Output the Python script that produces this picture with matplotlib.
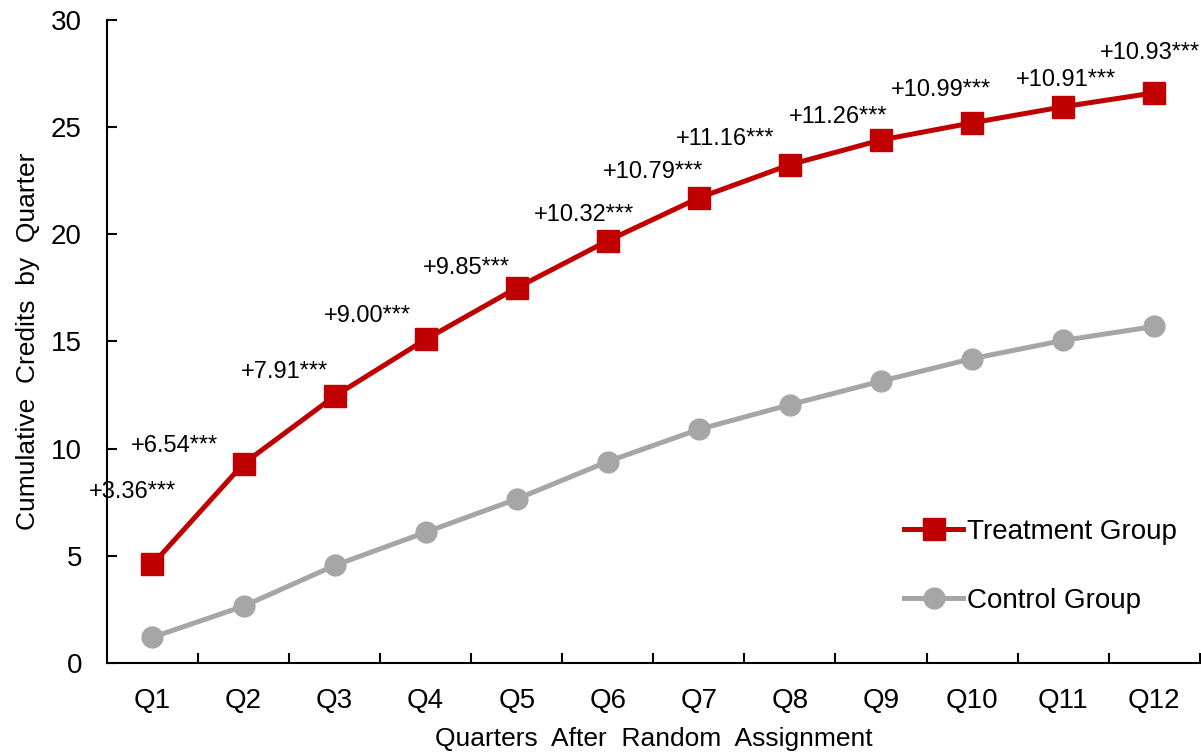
import matplotlib.pyplot as plt

plt.rcParams['font.family'] = ['Liberation Sans', 'DejaVu Sans']

quarters = ['Q1', 'Q2', 'Q3', 'Q4', 'Q5', 'Q6', 'Q7', 'Q8', 'Q9', 'Q10', 'Q11', 'Q12']
treatment = [4.6, 9.3, 12.45, 15.1, 17.5, 19.7, 21.7, 23.25, 24.4, 25.2, 25.95, 26.6]
control = [1.2, 2.65, 4.55, 6.1, 7.65, 9.4, 10.9, 12.05, 13.15, 14.2, 15.05, 15.7]
effects = ['+3.36***', '+6.54***', '+7.91***', '+9.00***', '+9.85***', '+10.32***',
           '+10.79***', '+11.16***', '+11.26***', '+10.99***', '+10.91***', '+10.93***']

# label offsets from each treatment point, in pixels
label_offsets = [(-20, 72), (-69, 18), (-50, 24), (-58, 23), (-50, 20), (-24, 26),
                 (-46, 26), (-65, 26), (-43, 23), (-31, 33), (3, 27), (-4, 40)]

red = '#C00000'
gray = '#A6A6A6'

fig = plt.figure(figsize=(12.01, 7.53), dpi=100)
ax = fig.add_axes([0.089, 0.1195, 0.91, 0.854])

x = list(range(len(quarters)))
ax.plot(x, treatment, color=red, lw=3.6, marker='s', ms=16, label='Treatment Group', zorder=3)
ax.plot(x, control, color=gray, lw=3.6, marker='o', ms=15, label='Control Group', zorder=2)

for xi, yi, txt, off in zip(x, treatment, effects, label_offsets):
    ax.annotate(txt, (xi, yi), xytext=off, textcoords='offset pixels',
                ha='center', va='center', fontsize=17)

ax.set_xlim(-0.5, 11.5)
ax.set_ylim(0, 30)
ax.set_yticks(range(0, 31, 5))
ax.set_xticks(x)
ax.set_xticklabels(quarters)
ax.set_xticks([i + 0.5 for i in range(11)] + [11.5], minor=True)
ax.tick_params(axis='x', which='major', length=0, labelsize=20, pad=18)
ax.tick_params(axis='x', which='minor', direction='in', length=7, width=1.5)
ax.tick_params(axis='y', direction='in', length=7, width=1.5, labelsize=20, pad=18)

for s in ['top', 'right']:
    ax.spines[s].set_visible(False)
for s in ['left', 'bottom']:
    ax.spines[s].set_linewidth(1.5)

ax.set_xlabel('Quarters  After  Random  Assignment', fontsize=19, labelpad=9)
ax.set_ylabel('Cumulative  Credits  by  Quarter', fontsize=19, labelpad=8)

ax.legend(loc='center left', bbox_to_anchor=(0.717, 0.15), frameon=False, fontsize=20,
          borderpad=0, handlelength=2.1, handletextpad=0.15, labelspacing=1.55)

fig.savefig('out.png', dpi=100)
